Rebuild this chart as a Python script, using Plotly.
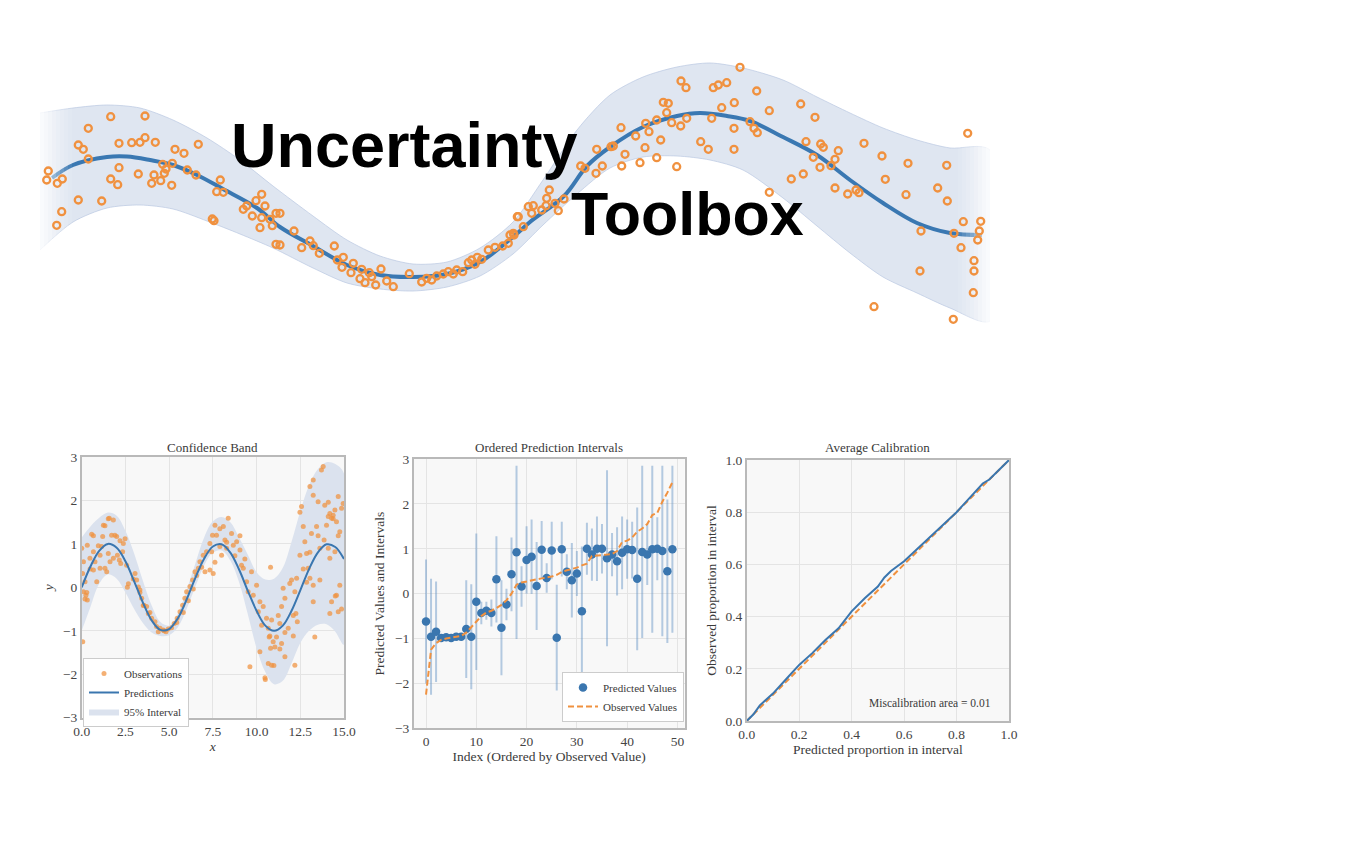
import plotly.graph_objects as go

# ---------------- Logo data (drawn in the logo's own hidden axes) ----------------
logo_line_x = [52, 73, 107, 127, 150, 173, 197, 223, 257, 280, 313, 347, 380, 413, 447, 480, 513, 530,
               564, 587, 610, 643, 677, 700, 727, 750, 783, 817, 850, 883, 917, 950, 982]
logo_line_y = [178, 165, 157, 156.5, 160, 165, 175, 189, 208, 227, 246, 265, 275, 277, 274, 262, 237, 222,
               196, 166, 147, 127, 116, 113, 116, 121, 137, 155, 180, 203, 223, 233, 235]

logo_band_x = [40, 73, 107, 140, 173, 207, 240, 273, 313, 347, 380, 413, 447, 480, 513, 543, 577, 610,
               643, 677, 710, 743, 783, 817, 850, 883, 917, 950, 990]
logo_band_upper = [113, 108, 105, 108, 120, 138, 160, 186, 216, 240, 256, 264, 262, 248, 222, 180, 130, 95,
                   77, 67, 63, 68, 80, 97, 113, 128, 140, 148, 150]
logo_band_lower = [250, 222, 208, 205, 209, 221, 234, 248, 268, 283, 289, 291, 287, 276, 254, 225, 194, 168,
                   157, 156, 160, 170, 198, 226, 253, 277, 293, 308, 321]

logo_pts_x = [48.3, 46.7, 57.3, 62.3, 61.7, 56.7, 78.3, 88.3, 78.3, 83.3, 88.3, 101.7, 110.7, 119, 119, 110.7,
              117.7, 131.7, 140, 145, 145, 138.3, 155.3, 151.7, 154, 160.7, 162.7, 166, 164.3, 172.3, 171.7,
              175, 184, 187.3, 196, 198.3, 212.3, 214, 220.3, 216.7, 223.3, 243.3, 246.7, 252.3, 256, 261.7,
              265, 261.7, 260, 270, 276, 272.3, 276,
              280, 280, 294, 301.7, 310, 313.3, 319.3, 334.3, 337.3, 343.3, 342, 353.3, 351, 361.7, 360, 365,
              369.3, 371.7, 375.7, 381, 386.7, 393.3, 409.3, 421.7, 426.7, 431.7, 436.7, 443.3, 448.3, 453.3,
              456.7, 462.7, 468.3, 471.7, 475, 477.3, 481.7, 488.3, 495, 502.7, 508.3, 510, 513.3, 517.3,
              523.3, 528.3,
              514, 518.3, 531.7, 533.3, 541.7, 546.7, 549.3, 546, 555, 558.3, 564, 580.7, 585, 596, 596.7,
              602.3, 611, 613.3, 621, 625, 621.7, 635.7, 640, 645, 645.7, 649, 656.7, 656.7, 660.7, 663.3,
              668.3, 666.7, 671.7, 676.7, 680.7, 681, 686, 686.7, 700.7, 708.3, 711.7, 713.3, 718.3, 726.7,
              721.7, 734.3, 734, 734, 740, 750, 756.7, 754, 757.3,
              769.3, 769.3, 791.3, 800.7, 803.3, 806, 813.3, 815, 820.7, 823.3, 820, 831, 835, 838.3, 835,
              847.7, 856, 859, 864, 874, 882, 885.3, 906, 908, 921, 920, 937.7, 946.7, 947.3, 954, 953.3,
              961, 963.3, 967.7, 974, 974, 973.3, 977.7, 979.3, 980.7]
logo_pts_y = [171, 180, 183.3, 179, 211.7, 225.3, 200, 128.3, 145, 149.3, 159, 201, 116.7, 143.3, 167.7, 179,
              184.7, 142.7, 142.3, 137.7, 116, 174, 142.3, 183.3, 175, 180.7, 164.3, 169, 173.3, 163.3, 185.3,
              149.3, 153.3, 170, 175, 144.3, 219, 220.7, 180, 191.7, 192.3, 209.3, 206, 216, 200.7, 194.3,
              206, 217.7, 227.7, 219.3, 213.3, 225.7, 244.3,
              213.3, 245, 231, 247.7, 241, 245.7, 253.3, 246, 260, 257.3, 267.3, 263.3, 272.7, 269.3, 278.7,
              282.7, 272.7, 276.7, 285, 269, 281, 286.7, 273.7, 282, 278.3, 280, 276, 274, 271.7, 274, 270,
              271.7, 262.7, 260, 264.3, 257.3, 259.3, 250, 247.3, 246, 243.3, 235, 233.3, 216.7, 226.7,
              206.7,
              235, 216.7, 213.3, 205.7, 210, 198.3, 190, 205.7, 203.3, 210.7, 199, 166, 168.3, 173.3, 149.3,
              166, 146.7, 146, 127.7, 154.3, 166, 136, 162.7, 147.7, 123.3, 131.7, 120, 157.7, 140, 102.3,
              103.3, 112.7, 122.7, 166.7, 126, 81, 87.7, 118.3, 141.7, 149.3, 118.3, 87.7, 85, 82.7, 107.7,
              102.7, 128.3, 149.3, 67.3, 121.7, 91, 128.3, 132.7,
              110.7, 192.3, 179, 104, 174, 141.7, 157.3, 117.3, 144, 147.3, 167.3, 165.7, 159.3, 150.7, 188,
              194, 190, 192.7, 143.3, 306.7, 156, 179.3, 194.7, 163.3, 231, 271, 188, 165.3, 201, 233.3,
              319.3, 247.7, 221.7, 133.3, 260.7, 271, 292.7, 240, 231, 221.3]
logo_words = ["Uncertainty", "Toolbox"]

# ---------------- Confidence Band data ----------------
pred_x = [0, 0.5, 1, 1.5, 2, 2.5, 3, 3.5, 4, 4.5, 5, 5.5, 6, 6.5, 7, 7.5, 8, 8.5, 9, 9.5, 10, 10.5, 11,
          11.5, 12, 12.5, 13, 13.5, 14, 14.5, 15]
pred_y = [0.0, 0.48, 0.84, 1.0, 0.91, 0.6, 0.14, -0.35, -0.76, -0.98, -0.96, -0.71, -0.28, 0.22, 0.66,
          0.94, 0.99, 0.8, 0.41, -0.08, -0.54, -0.88, -1.0, -0.88, -0.54, -0.07, 0.42, 0.8, 0.99, 0.93, 0.65]
band_upper = [1.15, 1.4, 1.6, 1.72, 1.65, 1.3, 0.78, 0.15, -0.42, -0.8, -0.88, -0.6, -0.06, 0.55, 1.15,
              1.52, 1.62, 1.5, 1.15, 0.75, 0.35, 0.18, 0.2, 0.45, 1.05, 1.75, 2.35, 2.72, 2.88, 2.84, 2.62]
band_lower = [-1.0, -0.45, 0.08, 0.3, 0.2, -0.12, -0.5, -0.82, -1.04, -1.12, -1.1, -0.92, -0.5, 0.02, 0.5,
              0.8, 0.85, 0.62, 0.12, -0.62, -1.4, -1.95, -2.23, -2.15, -1.75, -1.28, -1.0, -0.86, -0.85,
              -1.02, -1.32]
obs_x = [0.0, 0.1, 0.05, 0.19, 0.1, 0.24, 0.32, 0.06, 0.32, 0.57, 0.67, 0.47, 0.76, 0.67, 0.86, 1.05, 1.2,
         1.24, 1.14, 1.33, 1.52, 1.58, 1.81, 1.9, 1.71, 2.0, 2.04, 2.15, 2.19, 2.38, 2.34, 2.23, 1.81, 1.62,
         1.05, 1.43, 2.57, 3.05, 3.14, 3.24, 3.33, 3.43, 3.56, 3.71, 3.81, 4.0, 4.19, 4.28, 4.38, 4.48, 4.67,
         4.82, 4.95, 5.14, 5.29, 5.46, 5.62, 5.77, 5.9, 6.0, 6.19, 6.34, 6.48, 6.67, 6.76, 6.95, 7.14, 7.33,
         7.48, 7.05, 7.33, 7.52,
         7.43, 7.62, 7.71, 8.1, 8.19, 8.38, 7.9, 8.0, 8.29, 8.57, 8.67, 8.86, 9.05, 9.14, 9.24, 9.43, 9.52,
         9.71, 9.81, 10.0, 10.19, 10.1, 10.29, 10.38, 10.57, 10.67, 10.72, 10.86, 10.95, 11.05, 10.8, 10.67,
         10.86, 10.99, 10.48, 9.62, 10.8, 10.19, 11.14, 11.24, 11.43, 11.52, 11.62, 11.33, 11.43, 11.62,
         11.81, 11.9, 12.0, 12.1, 12.25, 12.33, 12.19, 12.19, 12.29, 12.48, 12.57, 12.67, 12.76, 12.86,
         12.95, 13.05, 13.24, 13.24, 13.33, 13.14, 13.05, 13.24, 13.43, 13.52, 13.62, 13.62, 13.81, 13.71,
         13.9, 14.0, 14.1, 14.19, 14.29, 14.38, 14.48, 14.57, 14.67, 14.1, 14.19, 14.48, 14.29, 14.57,
         14.67, 14.76, 14.86, 14.95, 14.76, 14.19, 13.86,
         0.29, 0.19, 0.48, 0.67, 0.95, 1.33, 1.52, 2.48, 2.61, 2.67, 2.95, 3.33, 3.52, 3.9, 4.7, 5.43,
         5.81, 6.1, 6.38, 6.57, 6.86, 7.62, 7.9, 8.29, 8.76, 9.05, 9.33, 10.5, 10.76, 11.33, 11.62, 12.1,
         12.67, 12.86, 13.05, 13.24, 13.52, 14.1, 14.38, 14.67, 14.86, 14.5, 12.48]
obs_y = [0.9, 0.59, 0.32, 0.13, -0.1, -0.18, -0.29, -1.25, 0.97, 1.22, 0.82, 0.67, 0.59, 0.4, 0.13, 0.74,
         1.17, 1.43, 0.94, 0.44, 0.78, 1.59, 1.55, 1.2, 1.2, 1.17, 0.74, 0.63, 1.07, 1.01, 0.82, 0.55, 0.67,
         0.59, 0.44, 0.36, 0.51, 0.32, 0.17, 0.01, -0.06, -0.25, -0.41, -0.44, -0.6, -0.71, -0.79, -0.9,
         -1.02, -0.94, -0.98, -1.02, -0.96, -0.93, -0.83, -0.71, -0.56, -0.41, -0.25, -0.1, 0.02, 0.17,
         0.36, 0.44, 0.59, 0.74, 0.82, 1.01, 1.2, 0.36, 0.4, 0.32,
         0.82, 1.43, 1.2, 1.4, 1.09, 1.59, 0.94, 0.74, 0.9, 1.24, 0.97, 1.05, 0.86, 0.51, 0.44, 0.13, -0.1,
         0.36, -0.18, 0.05, -0.33, -0.56, -0.87, -0.44, -0.71, -0.94, -1.14, -0.75, -1.25, -1.37, -1.4,
         -1.75, -1.79, -1.8, -2.08, -1.83, 0.46, -1.48, -1.14, -0.65, -0.44, -0.02, -0.25, -0.83, -1.29,
         -1.6, -0.94, 0.09, 0.17, -0.65, -0.6, -0.79, -1.79, -0.1, 0.21, 0.74, 1.86, 1.4, 1.05, 0.78,
         0.44, 0.21, 0.05, -0.33, -1.14, 1.24, 2.32, 2.47, 1.4, 1.97, 0.9, 0.17, 2.78, 2.7, 1.89, 1.43,
         1.63, 1.7, 1.59, 1.66, 1.78, 1.51, 2.09, 0.9, 0.67, 0.82, -0.33, -0.18, -0.56, 0.05, 1.82, 1.93,
         1.28, -0.6, 1.09,
         -0.12, -0.27, 0.42, 1.19, 0.96, 1.42, 1.58, 1.12, 0.0, 0.08, 0.19, -0.12, -0.42, -0.58, -1.0,
         -0.81, -0.58, -0.31, -0.04, 0.27, 0.46, 0.58, 1.35, 1.04, 0.73, 1.19, 0.65, -2.12, -1.12, -1.42,
         -1.04, -1.12, 0.42, 0.12, 0.81, 2.12, 1.19, 1.96, 1.58, 1.19, -0.5, -0.2, 1.73]

# ---------------- Ordered Prediction Intervals data ----------------
order_index = list(range(50))
ordered_pred = [-0.62, -0.96, -0.85, -0.99, -0.97, -0.99, -0.96, -0.96, -0.79, -0.96, -0.18, -0.43, -0.38,
                -0.43, 0.32, -0.76, -0.24, 0.43, 0.92, 0.16, 0.75, 0.82, 0.17, 0.98, 0.35, 0.96, -0.98,
                0.99, 0.49, 0.3, 0.45, -0.39, 1.0, 0.87, 1.0, 1.0, 0.79, 0.87, 0.72, 0.91, 0.99, 0.97,
                0.33, 0.93, 0.87, 0.99, 1.0, 0.95, 0.5, 0.99]
ordered_halfwidth = [1.38, 1.29, 1.12, 0.05, 0.05, 0.05, 0.05, 0.05, 1.09, 1.17, 1.52, 0.25, 0.2, 0.3,
                     0.96, 1.06, 0.35, 0.82, 1.93, 0.45, 0.75, 0.83, 0.98, 0.64, 0.33, 0.64, 1.18, 0.61,
                     0.39, 0.83, 0.5, 1.44, 0.58, 0.58, 0.72, 0.55, 1.96, 0.48, 0.76, 0.81, 0.66, 0.63,
                     1.59, 1.92, 0.68, 1.86, 0.7, 1.9, 1.6, 1.86]
ordered_obs = [-2.25, -1.25, -1.1, -1.03, -1.0, -0.98, -0.96, -0.94, -0.87, -0.75, -0.62, -0.5, -0.42,
               -0.38, -0.32, -0.25, -0.15, 0.0, 0.2, 0.25, 0.27, 0.3, 0.32, 0.34, 0.36, 0.38, 0.42, 0.48,
               0.52, 0.55, 0.58, 0.63, 0.67, 0.84, 0.85, 0.86, 0.87, 0.88, 0.95, 1.15, 1.18, 1.25, 1.38,
               1.45, 1.55, 1.75, 1.8, 2.05, 2.25, 2.48]

# ---------------- Average Calibration data ----------------
calib_expected = [0, 0.025, 0.05, 0.1, 0.15, 0.2, 0.25, 0.3, 0.35, 0.4, 0.45, 0.5, 0.525, 0.55, 0.6, 0.65,
                  0.7, 0.75, 0.8, 0.85, 0.9, 0.925, 0.95, 1.0]
calib_observed = [0, 0.025, 0.06, 0.105, 0.16, 0.215, 0.26, 0.31, 0.355, 0.42, 0.47, 0.515, 0.55, 0.575,
                  0.612, 0.66, 0.705, 0.755, 0.8, 0.855, 0.91, 0.925, 0.95, 1.0]
ideal_line = [0, 1]
miscal_text = "Miscalibration area = 0.01"

# ---------------- Styles ----------------
BLUE = "#3a76af"
ORANGE = "#f0913f"
BAND = "#dbe2ee"
SERIF = "Liberation Serif"
TXT = "#3a3a3a"

fig = go.Figure()

# ----- logo -----
fig.add_trace(go.Scatter(
    x=logo_band_x + logo_band_x[::-1], y=logo_band_upper + logo_band_lower[::-1],
    fill="toself", fillcolor="#dfe6f1", mode="lines",
    line=dict(width=1, color="rgba(185,200,225,0.7)", shape="spline", smoothing=0.8),
    xaxis="x", yaxis="y", showlegend=False, hoverinfo="skip"))
fig.add_trace(go.Scatter(
    x=logo_line_x, y=logo_line_y, mode="lines",
    line=dict(color="#3a78b2", width=4, shape="spline"),
    xaxis="x", yaxis="y", showlegend=False, hoverinfo="skip"))
# fade the two ends of the logo band (white veils of decreasing strength)
fade_steps = [0.93, 0.82, 0.7, 0.58, 0.46, 0.35, 0.25, 0.16, 0.08]
for k, op in enumerate(fade_steps):
    a = 36 + 4 * k
    b = a + 4
    c = 994 - 4 * k
    d = c - 4
    for x0, x1 in ((a, b), (d, c)):
        fig.add_trace(go.Scatter(
            x=[x0, x1, x1, x0, x0], y=[50, 50, 335, 335, 50], fill="toself",
            fillcolor=f"rgba(255,255,255,{op})", mode="lines", line=dict(width=0),
            xaxis="x", yaxis="y", showlegend=False, hoverinfo="skip"))
fig.add_trace(go.Scatter(
    x=logo_pts_x, y=logo_pts_y, mode="markers",
    marker=dict(symbol="circle-open", size=7, color=ORANGE, line=dict(width=2.3, color=ORANGE)),
    xaxis="x", yaxis="y", showlegend=False, hoverinfo="skip"))

# ----- confidence band -----
fig.add_trace(go.Scatter(
    x=pred_x + pred_x[::-1], y=band_upper + band_lower[::-1], fill="toself", fillcolor=BAND,
    mode="lines", line=dict(width=0, shape="spline"), name="95% Interval",
    xaxis="x2", yaxis="y2", legend="legend", legendrank=3))
fig.add_trace(go.Scatter(
    x=obs_x, y=obs_y, mode="markers", name="Observations",
    marker=dict(size=5, color="rgba(240,145,63,0.72)"),
    xaxis="x2", yaxis="y2", legend="legend", legendrank=1))
fig.add_trace(go.Scatter(
    x=pred_x, y=pred_y, mode="lines", name="Predictions",
    line=dict(color=BLUE, width=2, shape="spline"),
    xaxis="x2", yaxis="y2", legend="legend", legendrank=2))

# ----- ordered prediction intervals -----
fig.add_trace(go.Scatter(
    x=order_index, y=ordered_pred, mode="markers", marker=dict(size=1, color="rgba(0,0,0,0)"),
    error_y=dict(type="data", array=ordered_halfwidth, symmetric=True,
                 color="rgba(95,145,195,0.45)", thickness=2, width=0),
    xaxis="x3", yaxis="y3", showlegend=False, hoverinfo="skip"))
fig.add_trace(go.Scatter(
    x=order_index, y=ordered_pred, mode="markers", name="Predicted Values",
    marker=dict(size=8.5, color=BLUE),
    xaxis="x3", yaxis="y3", legend="legend2"))
fig.add_trace(go.Scatter(
    x=order_index, y=ordered_obs, mode="lines", name="Observed Values",
    line=dict(color=ORANGE, width=2, dash="6px,3px"),
    xaxis="x3", yaxis="y3", legend="legend2"))

# ----- average calibration -----
fig.add_trace(go.Scatter(
    x=ideal_line, y=ideal_line, mode="lines", line=dict(color=ORANGE, width=2, dash="6px,3px"),
    xaxis="x4", yaxis="y4", showlegend=False))
fig.add_trace(go.Scatter(
    x=calib_expected, y=calib_observed, mode="lines", line=dict(color=BLUE, width=2),
    xaxis="x4", yaxis="y4", showlegend=False))

# ---------------- Layout ----------------
W, H = 1350, 866
OFF = 8  # page body margin of the browser
def px_x(a, b):
    return [(a - OFF) / W, (b - OFF) / W]
def px_y(top, bottom):
    return [1 - (bottom - OFF) / H, 1 - (top - OFF) / H]
def py(v):
    return 1 - (v - OFF) / H
def pxx(v):
    return (v - OFF) / W

dom1 = (px_x(81.7, 344), px_y(457, 717.7))
dom2 = (px_x(413.7, 684.7), px_y(459, 728.3))
dom3 = (px_x(746.7, 1009), px_y(460, 721))

tickfont = dict(family=SERIF, size=13.5, color="#444444")
titlefont = dict(family=SERIF, size=13.5, color=TXT)

def ax(domain, rng, dtick, fmt, title, anchor, standoff):
    return dict(domain=domain, range=rng, dtick=dtick, tick0=0, tickformat=fmt, showgrid=True,
                gridcolor="#e4e4e4", gridwidth=1, zeroline=False, showline=True, mirror=True,
                linecolor="#b9b9b9", linewidth=1.5, ticks="", tickfont=tickfont, automargin=False,
                title=dict(text=title, font=titlefont, standoff=standoff), anchor=anchor)

fig.update_layout(
    width=W, height=H, margin=dict(l=0, r=0, t=0, b=0, pad=0, autoexpand=False),
    paper_bgcolor="white", plot_bgcolor="rgba(0,0,0,0)",
    xaxis=dict(domain=px_x(40, 990), range=[40, 990], visible=False, anchor="y", automargin=False),
    yaxis=dict(domain=px_y(55, 330), range=[330, 55], visible=False, anchor="x", automargin=False),
    xaxis2=ax(dom1[0], [0, 15], 2.5, ".1f", "<i>x</i>", "y2", 0),
    yaxis2=ax(dom1[1], [-3, 3], 1, "d", "<i>y</i>", "x2", 6),
    xaxis3=ax(dom2[0], [-2.45, 51.45], 10, "d", "Index (Ordered by Observed Value)", "y3", 2),
    yaxis3=ax(dom2[1], [-3, 3], 1, "d", "Predicted Values and Intervals", "x3", 7),
    xaxis4=ax(dom3[0], [0, 1], 0.2, ".1f", "Predicted proportion in interval", "y4", 0),
    yaxis4=ax(dom3[1], [0, 1], 0.2, ".1f", "Observed proportion in interval", "x4", 6),
    legend=dict(x=pxx(83), y=py(658), xanchor="left", yanchor="top", bgcolor="white",
                bordercolor="#cccccc", borderwidth=1, font=dict(family=SERIF, size=11, color=TXT),
                tracegroupgap=0, itemwidth=30),
    legend2=dict(x=pxx(684), y=py(722), xanchor="right", yanchor="bottom", bgcolor="white",
                 bordercolor="#cccccc", borderwidth=1, font=dict(family=SERIF, size=11, color=TXT),
                 tracegroupgap=0, itemwidth=30),
    showlegend=True,
)

# subplot backgrounds
for xr, yr in [("x2", "y2"), ("x3", "y3"), ("x4", "y4")]:
    fig.add_shape(type="rect", xref=f"{xr} domain", yref=f"{yr} domain", x0=0, x1=1, y0=0, y1=1,
                  fillcolor="#f8f8f8", line=dict(width=0), layer="below")

# subplot titles
titles = ["Confidence Band", "Ordered Prediction Intervals", "Average Calibration"]
for t, d in zip(titles, [dom1, dom2, dom3]):
    fig.add_annotation(text=t, xref="paper", yref="paper", x=(d[0][0] + d[0][1]) / 2, y=py(447),
                       xanchor="center", yanchor="middle", showarrow=False,
                       font=dict(family=SERIF, size=13, color=TXT))

fig.add_annotation(text=miscal_text, xref="x4", yref="y4", x=0.70, y=0.07, showarrow=False,
                   font=dict(family=SERIF, size=11.5, color=TXT))

# logo words
fig.add_annotation(text=f"<b>{logo_words[0]}</b>", xref="x", yref="y", x=229, y=145,
                   xanchor="left", yanchor="middle", showarrow=False,
                   font=dict(family="Liberation Sans", size=63, color="#000000"))
fig.add_annotation(text=f"<b>{logo_words[1]}</b>", xref="x", yref="y", x=569, y=214,
                   xanchor="left", yanchor="middle", showarrow=False,
                   font=dict(family="Liberation Sans", size=61, color="#000000"))

fig.write_html("out.html")
